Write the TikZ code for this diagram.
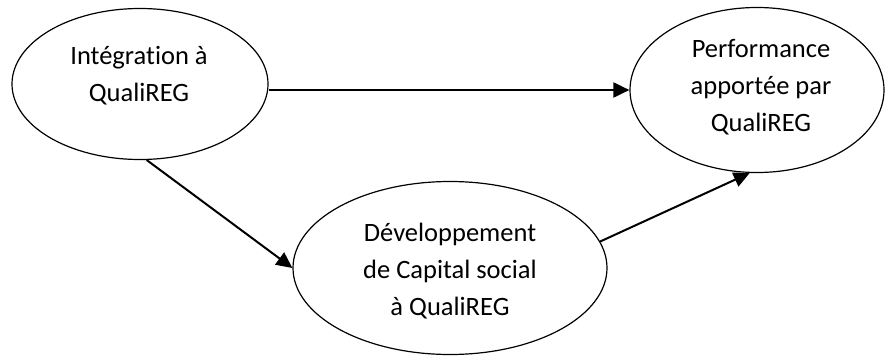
\documentclass[tikz,border=0pt]{standalone}
\usepackage{fontspec}
\setmainfont[Ligatures=NoCommon]{Carlito}
\usetikzlibrary{arrows.meta,shapes.geometric}

\begin{document}
\begin{tikzpicture}[
  x=1pt, y=-1pt,
  font=\fontsize{26.5}{37}\selectfont,
  blob/.style={ellipse, draw, line width=1.2pt, inner sep=0pt},
  txt/.style={align=center},
  arr/.style={line width=2pt, -{Triangle[length=16pt,width=15pt]}}
]
\useasboundingbox (0,0) rectangle (886,356);
% ellipses
\node[blob, minimum width=256pt, minimum height=151pt] (integ) at (140,84)  {};
\node[blob, minimum width=254pt, minimum height=165pt] (perf)  at (757,90)  {};
\node[blob, minimum width=314pt, minimum height=173pt] (dev)   at (450,268) {};
% texts
\node[txt] (integtxt) at (139,76)  {Intégration à\\QualiREG};
\node[txt] (perftxt)  at (761,87)  {Performance\\apportée par\\QualiREG};
\node[txt] (devtxt)   at (450,271) {Développement\\de Capital social\\à QualiREG};
% links
\draw[arr] (integ.east |- perf.west) -- (perf.west);
\draw[arr] (integ.-85) -- (dev.west);
\draw[arr] (dev.10) -- (perf.-95);
\end{tikzpicture}
\end{document}
